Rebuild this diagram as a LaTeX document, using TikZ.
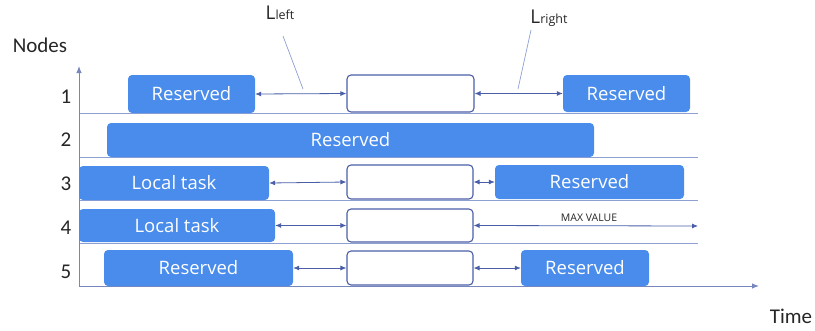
\documentclass[tikz,border=0pt]{standalone}
\usepackage{fontspec}
\setmainfont{Carlito}
\newfontfamily\boxfont{Open Sans}
\usetikzlibrary{arrows.meta}
\definecolor{resblue}{HTML}{4A8CEB}
\definecolor{darkline}{HTML}{4A5FA8}
\definecolor{gridline}{HTML}{8E9FD2}
\tikzset{
  res/.style={fill=resblue, draw=none, rounded corners=4pt, text=white, font=\boxfont\fontsize{18.5}{22}\selectfont, inner sep=0pt},
  slot/.style={draw=darkline, line width=1.1pt, fill=white, rounded corners=4pt, inner sep=0pt},
  gap/.style={draw=darkline, line width=0.8pt, {Latex[length=6pt,width=5pt]}-{Latex[length=6pt,width=5pt]}},
  grid/.style={draw=gridline, line width=0.8pt},
  axis/.style={draw=darkline!75, line width=1pt, -{Latex[length=7pt,width=5.5pt]}},
  lab/.style={font=\fontsize{21}{24}\selectfont, text=black!85},
  leader/.style={draw=gridline, line width=0.7pt}
}
\begin{document}
\begin{tikzpicture}[x=1pt,y=-1pt]
\useasboundingbox (0,0) rectangle (815,330);
% axes and grid
\coordinate (o) at (79,286);
\coordinate (ytop) at (79,66);
\coordinate (xend) at (759,286);
\draw[grid] (79,113) -- (698,113);
\draw[grid] (79,157) -- (698,157);
\draw[grid] (79,200) -- (698,200);
\draw[grid] (79,243) -- (698,243);
\draw[axis] (o) -- (ytop);
\draw[axis] (o) -- (xend);
% labels
\node[lab] (nodes) at (40,45) {Nodes};
\node[lab] (time) at (791,316) {Time};
\node[lab] (n1) at (66,97) {1};
\node[lab] (n2) at (66,140) {2};
\node[lab] (n3) at (66,184) {3};
\node[lab] (n4) at (66,228) {4};
\node[lab] (n5) at (66,272) {5};
% row 1
\node[res, minimum width=127pt, minimum height=38pt] (r1a) at (191.5,94) {Reserved};
\node[slot, minimum width=127pt, minimum height=37pt] (m1) at (410.5,93.5) {};
\node[res, minimum width=127pt, minimum height=37pt] (r1b) at (626.5,93.5) {Reserved};
% row 2
\node[res, minimum width=487pt, minimum height=34pt] (r2) at (350.5,140) {Reserved};
% row 3
\node[res, minimum width=190pt, minimum height=34pt] (l3) at (174,183) {Local task};
\node[slot, minimum width=126pt, minimum height=34pt] (m3) at (410,182) {};
\node[res, minimum width=189pt, minimum height=34pt] (r3) at (589.5,182) {Reserved};
% row 4
\node[res, minimum width=196pt, minimum height=33pt] (l4) at (177,225.5) {Local task};
\node[slot, minimum width=126pt, minimum height=33pt] (m4) at (410,225.5) {};
\coordinate (maxend) at (698,226);
% row 5
\node[res, minimum width=189pt, minimum height=36pt] (r5a) at (198.5,268) {Reserved};
\node[slot, minimum width=126pt, minimum height=34pt] (m5) at (410,268) {};
\node[res, minimum width=128pt, minimum height=36pt] (r5b) at (585,268) {Reserved};
% gap arrows
\draw[gap] (r1a.east) -- (m1.west);
\draw[gap] (m1.east) -- (r1b.west);
\draw[gap] (l3.east) -- (m3.west);
\draw[gap] (m3.east) -- (r3.west);
\draw[gap] (l4.east) -- (m4.west);
\draw[gap] (m4.east) -- (maxend);
\draw[gap] (r5a.east) -- (m5.west);
\draw[gap] (m5.east) -- (r5b.west);
\node[font=\boxfont\fontsize{10.5}{12}\selectfont, text=black!85] (maxv) at (589,218) {MAX VALUE};
% L labels
\node[font=\boxfont, text=black!85, inner sep=1pt] (lleft) at (280,13) {{\fontsize{19}{22}\selectfont L}{\fontsize{12.5}{14}\selectfont left}};
\node[font=\boxfont, text=black!85, inner sep=1pt] (lright) at (549,18) {{\fontsize{19}{22}\selectfont L}{\fontsize{12.5}{14}\selectfont right}};
\coordinate (pl) at (303,89);
\coordinate (pr) at (518,89);
\draw[leader] (283,36) -- (pl);
\draw[leader] (531,30) -- (pr);
\end{tikzpicture}
\end{document}
